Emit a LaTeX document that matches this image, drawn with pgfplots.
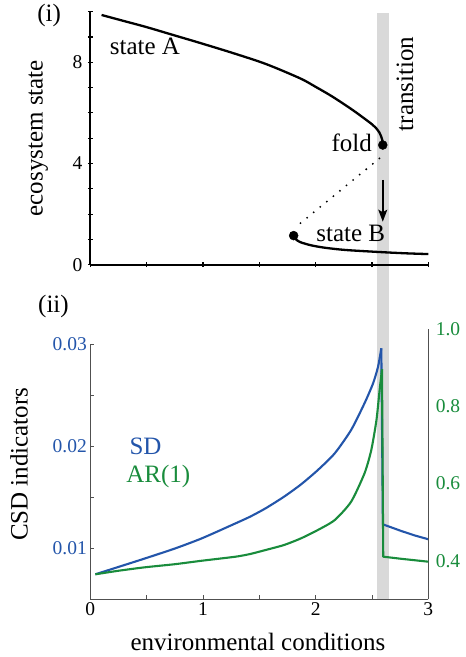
\documentclass[border=0pt]{standalone}
\usepackage{fontspec}
\setmainfont{Liberation Serif}
\usepackage{pgfplots}
\pgfplotsset{compat=1.18}
\usetikzlibrary{arrows.meta}
\definecolor{sdblue}{RGB}{35,85,170}
\definecolor{argreen}{RGB}{25,140,60}
\definecolor{bandgray}{RGB}{217,217,217}
\definecolor{axgray}{RGB}{80,80,80}
\newcommand{\tickfont}{\fontsize{19.5}{22}\selectfont}
\newcommand{\labfont}{\fontsize{25}{28}\selectfont}
\begin{document}
\begin{tikzpicture}
\useasboundingbox (0,0) rectangle (466pt,657pt);

% ---------- bottom panel, left axis (SD) ----------
\begin{axis}[
  at={(90.3pt,57.7pt)}, anchor=south west,
  scale only axis, width=338pt, height=255.3pt,
  xmin=0, xmax=3, ymin=0.005, ymax=0.03,
  scaled y ticks=false, scaled x ticks=false,
  axis x line*=bottom, axis y line*=left,
  axis line style={axgray, line width=0.9pt},
  every tick/.style={axgray, line width=0.9pt},
  tick align=inside, major tick length=4pt,
  xtick={0,0.5,1,1.5,2,2.5,3}, xticklabels={0,,1,,2,,3},
  ytick={0.005,0.01,0.015,0.02,0.025,0.03},
  yticklabels={,0.01,,0.02,,0.03},
  xticklabel style={font=\tickfont, text=black},
  yticklabel style={font=\tickfont, text=sdblue},
  xlabel={environmental conditions},
  ylabel={CSD indicators},
  xlabel style={font=\labfont, at={(axis description cs:0.496,-0.167)}, anchor=center},
  ylabel style={font=\labfont, at={(axis description cs:-0.211,0.529)}, anchor=center},
  clip=false,
]
\addplot[fill=bandgray, draw=none, forget plot] coordinates {(2.545,0.005) (2.65,0.005) (2.65,0.06244) (2.545,0.06244)} -- cycle;
\addplot[sdblue, line width=2.1pt, smooth, tension=0.4] coordinates {
(0.045,0.00745) (0.25,0.00817) (0.485,0.0090) (0.75,0.00997) (0.99,0.01097)
(1.29,0.01244) (1.42,0.0131) (1.556,0.01391) (1.72,0.01505) (1.87,0.01625)
(2.02,0.01766) (2.17,0.0193) (2.315,0.02158) (2.434,0.0242) (2.51,0.02615)
(2.554,0.02778) (2.583,0.02958)};
\addplot[sdblue, line width=2.1pt, line join=round, forget plot] coordinates {
(2.583,0.02958) (2.597,0.01234) (2.76,0.01169) (2.88,0.01125) (3.0,0.01088)};
\node[font=\labfont, text=sdblue] at (axis cs:0.49,0.01994) {SD};
\node[font=\labfont, text=argreen] at (axis cs:0.604,0.01698) {AR(1)};
\node[font=\labfont] at (rel axis cs:-0.109,1.145) {(ii)};
\end{axis}

% ---------- bottom panel, right axis (AR1) ----------
\begin{axis}[
  at={(90.3pt,57.7pt)}, anchor=south west,
  scale only axis, width=338pt, height=270pt,
  xmin=0, xmax=3, ymin=0.3, ymax=1.0,
  scaled y ticks=false,
  axis x line=none, axis y line*=right,
  axis line style={axgray, line width=0.9pt},
  ytick={0.4,0.6,0.8,1.0}, yticklabels={0.4,0.6,0.8,1.0},
  major tick length=0pt,
  yticklabel style={font=\tickfont, text=argreen, xshift=4pt},
]
\addplot[argreen, line width=2.1pt, smooth, tension=0.4] coordinates {
(0.045,0.3648) (0.25,0.374) (0.485,0.383) (0.75,0.391) (0.99,0.400)
(1.29,0.4105) (1.42,0.4175) (1.556,0.4278) (1.72,0.4408) (1.87,0.458)
(2.02,0.4797) (2.17,0.5056) (2.315,0.553) (2.434,0.6267) (2.494,0.687)
(2.54,0.765) (2.568,0.8427) (2.589,0.8963)};
\addplot[argreen, line width=2.1pt, line join=round, forget plot] coordinates {
(2.589,0.8963) (2.60,0.4105) (2.76,0.405) (3.0,0.3975)};
\end{axis}

% ---------- top panel ----------
\begin{axis}[
  at={(90.3pt,392.3pt)}, anchor=south west,
  scale only axis, width=338pt, height=253pt,
  xmin=0, xmax=3, ymin=0, ymax=10,
  axis x line*=bottom, axis y line*=left,
  axis line style={black, line width=1.9pt},
  every tick/.style={black, line width=1.1pt},
  tick align=center, major tick length=5pt,
  xtick={0,0.5,1,1.5,2,2.5,3}, xticklabels={},
  ytick={0,1,2,3,4,5,6,7,8,9,10}, yticklabels={0,,,,4,,,,8,,},
  yticklabel style={font=\tickfont, xshift=-2pt},
  ylabel={ecosystem state},
  ylabel style={font=\labfont, at={(axis description cs:-0.154,0.5)}, anchor=center},
  clip=false,
]
\addplot[black, line width=2.3pt, smooth, tension=0.5] coordinates {
(0.10,9.87) (0.30,9.63) (0.50,9.39) (0.75,9.06) (0.97,8.77) (1.27,8.36)
(1.56,7.93) (1.86,7.37) (2.0,7.03) (2.15,6.64) (2.33,6.11) (2.45,5.72) (2.50,5.55)
(2.54,5.38) (2.565,5.23) (2.58,5.09) (2.59,4.96) (2.595,4.84) (2.597,4.73)};
\addplot[black, line width=2.3pt, smooth, tension=0.5] coordinates {
(1.805,1.15) (1.82,1.02) (1.86,0.90) (1.93,0.80) (2.0,0.73) (2.1,0.66)
(2.27,0.58) (2.57,0.50) (2.8,0.45) (3.0,0.42)};
\addplot[black, line width=2.1pt, line cap=round, dash pattern=on 0pt off 8.5pt] coordinates {
(2.566,4.2) (1.865,1.64)};
\addplot[black, line width=1.5pt, -{Stealth[length=12pt,width=9pt,inset=2.5pt]}] coordinates {
(2.596,3.35) (2.596,1.70)};
\addplot[only marks, mark=*, mark size=4.5pt, black] coordinates {(2.596,4.73) (1.805,1.15)};
\node[font=\labfont] at (axis cs:0.485,8.62) {state A};
\node[font=\labfont, anchor=east, inner sep=1pt] at (axis cs:2.51,4.80) {fold};
\node[font=\labfont] at (axis cs:2.312,1.23) {state B};
\node[font=\labfont, rotate=90] at (axis cs:2.793,7.14) {transition};
\node[font=\labfont, inner sep=0pt] at (rel axis cs:-0.122,0.985) {(i)};
\end{axis}
\end{tikzpicture}
\end{document}
